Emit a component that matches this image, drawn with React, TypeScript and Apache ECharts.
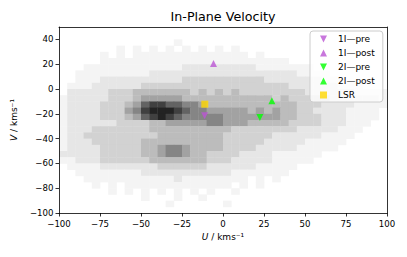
import React, { useEffect, useRef } from "react";
import * as echarts from "echarts";

const U_TICKS = [-100, -75, -50, -25, 0, 25, 50, 75, 100];
const V_TICKS = [-100, -80, -60, -40, -20, 0, 20, 40];

// 2D histogram of stars, 5 km/s bins, U from -100 (left), V from 50 (top row) downward
const BIN = 5;
const U_START = -100;
const V_TOP = 50;
const DENSITY_ROWS = [
  "0000000000000000000000000000000000000000",
  "0000000000000000000000000000000000000000",
  "0000000000000010000000000000000000000000",
  "0000000101010101010101000000000000000000",
  "0000010101111111111111101000000000000000",
  "0000011111111111111111111111000000000000",
  "0001111111111112222222221111111000000000",
  "0011111111122222222222222222211110000000",
  "0011122222222223333333333222222211100000",
  "0111222222333333333333333333222222111000",
  "0222223334444444343434333333332222221111",
  "1222223334555554444444444434333332222221",
  "1222233345788776654444444444433322221111",
  "1222233356899987665555545454433222211110",
  "1222233345789876666655555554433322211110",
  "1222222333344555556655544444333322211100",
  "1222333333344444444443333333322222111000",
  "1223333333334444444433333322222211110000",
  "1222333333444444444433333222221111100000",
  "1222233333445665444433332222211111000000",
  "2222233333445665443333222211111100000000",
  "1122233333344444443332222211111000000000",
  "0111122222223333332222221111100000000000",
  "0011111111222222222221111111000000000000",
  "0001111111111121111111101010000000000000",
  "0000101011111111111110101000000000000000",
  "0000001010101010101001000000000000000000",
  "0000000000100010010000000000000000000000",
  "0000000000000100000010000000000000000000",
  "0000000000000000000000000000000000000000",
];
const GREYS = ["#ffffff", "#f4f4f4", "#e6e6e6", "#d2d2d2", "#bcbcbc", "#a2a2a2", "#858585", "#636363", "#404040", "#232323"];

const I1_PRE = [[-11.2, -21.5]];
const I1_POST = [[-5.8, 20.5]];
const I2_PRE = [[22.5, -23]];
const I2_POST = [[29.8, -9.5]];
const LSR = [[-11.1, -12.24]];

const FONT = "DejaVu Sans";

function fmt(v: number): string {
  return v < 0 ? "\u2212" + Math.abs(v) : String(v);
}

export default function App() {
  const ref = useRef<HTMLDivElement>(null);

  useEffect(() => {
    if (!ref.current) return;
    const chart = echarts.init(ref.current, null, { renderer: "svg" });

    const cells: number[][] = [];
    DENSITY_ROWS.forEach((row, r) => {
      for (let c = 0; c < row.length; c++) {
        const lvl = parseInt(row[c], 10);
        if (lvl > 0) cells.push([U_START + c * BIN, V_TOP - (r + 1) * BIN, lvl]);
      }
    });

    const axisLine = { show: true, onZero: false, lineStyle: { color: "#000", width: 0.8 } };
    const tick = { show: true, length: 3.5, lineStyle: { color: "#000", width: 0.8 } };

    chart.setOption({
      animation: false,
      backgroundColor: "#ffffff",
      grid: { left: 59, right: 20, top: 27, bottom: 44, show: false },
      graphic: [
        {
          type: "text",
          x: 223,
          y: 16,
          style: {
            text: "In-Plane Velocity",
            fontSize: 12.7,
            fontFamily: FONT,
            fill: "#000",
            align: "center",
            verticalAlign: "middle",
          },
        },
      ],
      xAxis: [
        {
          type: "value",
          min: -100,
          max: 100,
          interval: 25,
          position: "bottom",
          axisLine,
          axisTick: { ...tick, customValues: U_TICKS },
          axisLabel: { fontSize: 8.6, color: "#000", fontFamily: FONT, margin: 6, formatter: fmt, customValues: U_TICKS },
          splitLine: { show: false },
          name: "{i|U} / kms\u207B\u00B9",
          nameLocation: "middle",
          nameGap: 18,
          nameTextStyle: {
            fontSize: 9,
            color: "#000",
            fontFamily: FONT,
            rich: { i: { fontStyle: "italic", fontSize: 9, fontFamily: FONT, color: "#000" } },
          },
          z: 10,
        },
        {
          type: "value",
          min: -100,
          max: 100,
          position: "top",
          axisLine,
          axisTick: { show: false },
          axisLabel: { show: false },
          splitLine: { show: false },
          z: 10,
        },
      ],
      yAxis: [
        {
          type: "value",
          min: -100,
          max: 50,
          interval: 20,
          position: "left",
          axisLine,
          axisTick: { ...tick, customValues: V_TICKS },
          axisLabel: {
            fontSize: 8.6,
            color: "#000",
            fontFamily: FONT,
            margin: 5.5,
            customValues: V_TICKS,
            formatter: (v: number) => (v === 50 ? "" : fmt(v)),
          },
          splitLine: { show: false },
          name: "{i|V} / kms\u207B\u00B9",
          nameLocation: "middle",
          nameGap: 31,
          nameTextStyle: {
            fontSize: 9,
            color: "#000",
            fontFamily: FONT,
            rich: { i: { fontStyle: "italic", fontSize: 9, fontFamily: FONT, color: "#000" } },
          },
          z: 10,
        },
        {
          type: "value",
          min: -100,
          max: 50,
          position: "right",
          axisLine,
          axisTick: { show: false },
          axisLabel: { show: false },
          splitLine: { show: false },
          z: 10,
        },
      ],
      legend: {
        orient: "vertical",
        left: 310,
        top: 31,
        padding: [3, 8, 2, 10],
        itemWidth: 7,
        itemHeight: 7,
        itemGap: 4,
        selectedMode: false,
        textStyle: { fontSize: 9, lineHeight: 10, fontFamily: FONT, color: "#000", padding: [0, 0, 0, 6] },
        backgroundColor: "rgba(255,255,255,0.8)",
        borderColor: "#cccccc",
        borderWidth: 1,
        borderRadius: 3,
        data: [
          { name: "1I\u2014pre", icon: "path://M0,0L10,0L5,10Z" },
          { name: "1I\u2014post", icon: "triangle" },
          { name: "2I\u2014pre", icon: "path://M0,0L10,0L5,10Z" },
          { name: "2I\u2014post", icon: "triangle" },
          { name: "LSR", icon: "rect" },
        ],
      },
      series: [
        {
          type: "custom",
          name: "density",
          silent: true,
          clip: true,
          z: 1,
          data: cells,
          renderItem: (_params: any, api: any) => {
            const u = api.value(0);
            const v = api.value(1);
            const lvl = api.value(2);
            const a = api.coord([u, v + BIN]);
            const b = api.coord([u + BIN, v]);
            return {
              type: "rect",
              shape: { x: a[0], y: a[1], width: b[0] - a[0] + 0.4, height: b[1] - a[1] + 0.4 },
              style: { fill: GREYS[lvl], stroke: null },
            };
          },
        },
        {
          type: "scatter",
          name: "1I\u2014pre",
          data: I1_PRE,
          symbol: "triangle",
          symbolRotate: 180,
          symbolSize: 7,
          itemStyle: { color: "#BA55D3" },
          z: 5,
        },
        {
          type: "scatter",
          name: "1I\u2014post",
          data: I1_POST,
          symbol: "triangle",
          symbolSize: 7,
          itemStyle: { color: "#BA55D3" },
          z: 5,
        },
        {
          type: "scatter",
          name: "2I\u2014pre",
          data: I2_PRE,
          symbol: "triangle",
          symbolRotate: 180,
          symbolSize: 7,
          itemStyle: { color: "#00FF00" },
          z: 5,
        },
        {
          type: "scatter",
          name: "2I\u2014post",
          data: I2_POST,
          symbol: "triangle",
          symbolSize: 7,
          itemStyle: { color: "#00FF00" },
          z: 5,
        },
        {
          type: "scatter",
          name: "LSR",
          data: LSR,
          symbol: "rect",
          symbolSize: 7,
          itemStyle: { color: "#FFD700" },
          z: 5,
        },
      ],
    });

    return () => chart.dispose();
  }, []);

  return (
    <div
      ref={ref}
      style={{ position: "fixed", left: 0, top: 0, width: 407, height: 257, background: "#fff" }}
    />
  );
}
